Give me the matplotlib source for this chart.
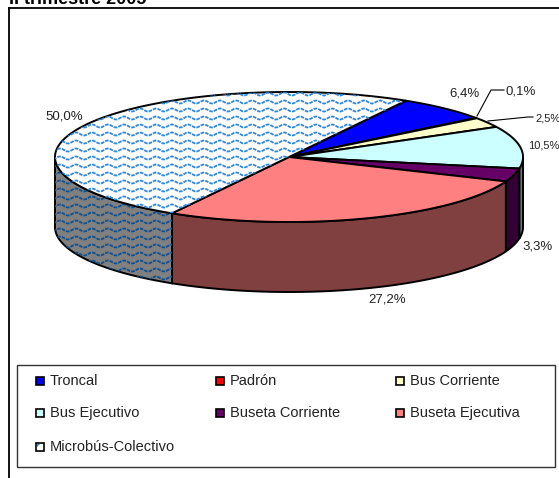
import numpy as np
import matplotlib
matplotlib.use('Agg')
import matplotlib.pyplot as plt
from matplotlib.patches import Polygon, Rectangle

plt.rcParams['font.family'] = ['Liberation Sans', 'DejaVu Sans']

categorias = ['Troncal', 'Padrón', 'Bus Corriente', 'Bus Ejecutivo',
              'Buseta Corriente', 'Buseta Ejecutiva', 'Microbús-Colectivo']
valores = [6.4, 0.1, 2.5, 10.5, 3.3, 27.2, 50.0]
etiquetas = ['6,4%', '0,1%', '2,5%', '10,5%', '3,3%', '27,2%', '50,0%']

colores = ['#0000FF', '#FF0000', '#FFFFCC', '#CCFFFF', '#660066', '#FF8080', '#FFFFFF']
lados = ['#000080', '#800000', '#808066', '#668080', '#330033', '#804040', '#808080']

# geometria del pastel, en pixeles
cx, cy, a, b, alto = 289, 157, 234, 65, 70
inicio = 60

fig = plt.figure(figsize=(5.59, 4.78), dpi=100)
ax = fig.add_axes([0, 0, 1, 1])
ax.set_xlim(0, 559)
ax.set_ylim(478, 0)
ax.axis('off')


def borde(t1, t2, dy=0):
    t = np.radians(np.linspace(t1, t2, max(int(abs(t2 - t1)) * 2, 2)))
    return np.column_stack((cx + a * np.cos(t), cy - b * np.sin(t) + dy))


def ondas(parche, color):
    # textura ondulada del microbus
    x = np.arange(40, 430, 0.5)
    for y0 in np.arange(86, 300, 8):
        linea, = ax.plot(x, y0 + 1.5 * np.sin(x * 2 * np.pi / 16), color=color, lw=1.3,
                         ls=(0, (2.0, 0.6)), zorder=parche.get_zorder() + 0.1)
        linea.set_clip_path(parche)


# angulos de cada sector, en sentido horario
fin = inicio - np.cumsum(valores) * 3.6
ini = np.r_[inicio, fin[:-1]]

# lados (solo la mitad delantera se ve)
for i in range(len(valores)):
    t1 = ini[i] % 360
    t2 = t1 - valores[i] * 3.6
    if t1 < 180 and t2 < 0:
        t1, t2 = t1 + 360, t2 + 360
    if t1 <= 180:
        continue
    t1 = min(t1, 360)
    t2 = max(t2, 180)
    if t1 <= t2:
        continue
    pts = np.vstack((borde(t1, t2), borde(t2, t1, alto)))
    p = Polygon(pts, closed=True, fc=lados[i], ec='black', lw=1.4, zorder=2)
    ax.add_patch(p)
    if i == 6:
        ondas(p, '#10508F')

# caras de arriba
for i in range(len(valores)):
    pts = np.vstack(([[cx, cy]], borde(ini[i], fin[i])))
    p = Polygon(pts, closed=True, fc=colores[i], ec='black', lw=1.4, zorder=3)
    ax.add_patch(p)
    if i == 6:
        ondas(p, '#2F86DC')

# marco del grafico
ax.plot([9, 9], [478, 8], color='black', lw=1.3, zorder=5)
ax.plot([9, 559], [8, 8], color='black', lw=1.3, zorder=5)
ax.text(9, 4, 'II trimestre 2005', fontsize=13, fontweight='bold', ha='left', va='baseline')

# etiquetas de datos
estilo_etq = [(465, 93, 'center', 9.5), (521, 91, 'center', 9.5), (535, 118, 'left', 8),
              (559, 145, 'right', 8), (538, 246, 'center', 9.5), (387, 300, 'center', 9.5),
              (64, 116, 'center', 9.5)]
for txt, (x, y, alin, tam) in zip(etiquetas, estilo_etq):
    ax.text(x, y, txt, fontsize=tam, ha=alin, va='center', color='#222222')

# lineas guia
ax.plot([477, 491, 504], [116, 90, 90], color='black', lw=0.8, zorder=4)
ax.plot([488, 528, 533], [121, 117, 117], color='black', lw=0.8, zorder=4)

# leyenda
ax.add_patch(Rectangle((17, 365), 538, 102, fc='white', ec='#333333', lw=1.0, zorder=1))
col_x = [40, 220, 400]
fila_y = [381, 413, 447]
for i, nombre in enumerate(categorias):
    x = col_x[i % 3]
    y = fila_y[i // 3]
    ax.add_patch(Rectangle((x - 4, y - 4), 8, 8, fc=colores[i], ec='black', lw=1.2, zorder=3))
    if i == 6:
        ax.add_patch(Polygon([[x - 3, y], [x - 3, y - 3], [x, y - 3]], fc='#2F86DC', ec='none', zorder=4))
    ax.text(x + 9.5, y, nombre, fontsize=10.5, ha='left', va='center', color='#222222')

fig.savefig('out.png', dpi=100)
